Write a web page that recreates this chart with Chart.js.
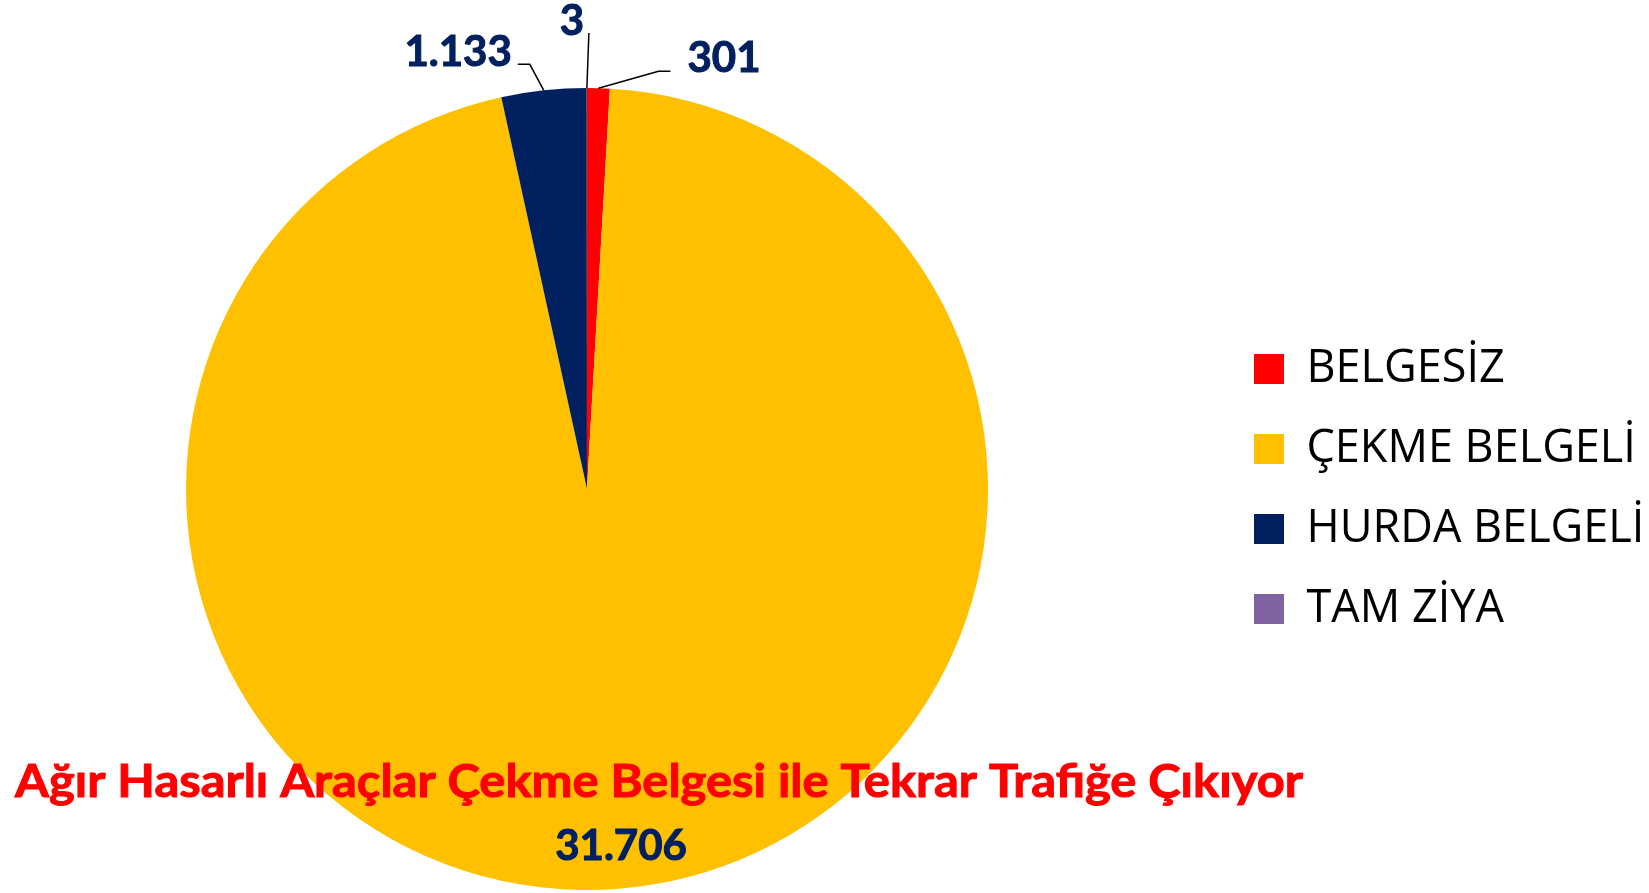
<!DOCTYPE html>
<html>
<head>
<meta charset="utf-8">
<script src="https://cdn.jsdelivr.net/npm/chart.js@4/dist/chart.umd.min.js"></script>
<style>
  html, body { margin: 0; padding: 0; background: #fff; }
  #wrap { width: 1649px; height: 893px; position: relative; }
</style>
</head>
<body>
<div id="wrap"><canvas id="pasta"></canvas></div>
<script>
// dados
const categorias = ['BELGESİZ', 'ÇEKME BELGELİ', 'HURDA BELGELİ', 'TAM ZİYA'];
const valores = [301, 31706, 1133, 3];
const rotulos = ['301', '31.706', '1.133', '3'];
const cores = ['#FF0000', '#FFC000', '#002060', '#8064A2'];
const titulo = 'Ağır Hasarlı Araçlar Çekme Belgesi ile Tekrar Trafiğe Çıkıyor';

// posição dos rótulos (linha guia: cotovelo e fim, em relação à borda da fatia)
const guias = [
    { elbow: [60, -17], end: [12, 0], text: [17, 1], align: 'left' },
    null,
    { elbow: [-14, -26], end: [-12, 0], text: [-6, 2], align: 'right' },
    { elbow: [2, -55], end: [0, 0], text: [-17, 2], align: 'center' }
];

const tamLegenda = 45;
const padLegenda = 35;
const medir = document.createElement('canvas').getContext('2d');
medir.font = tamLegenda + 'px "Open Sans"';
const maiorTexto = Math.max(...categorias.map(c => medir.measureText(c).width));
// caixa da legenda em x=1254; o Chart.js soma 10px à largura
const inicioLegenda = 1254 - padLegenda;
const padDireita = 1649 - inicioLegenda - (padLegenda + 30 + tamLegenda / 2 + maiorTexto + 10);
const centroX = 587;

const rotulosPlugin = {
    id: 'rotulos',
    afterLayout(chart) {
        // centraliza a pizza em x=587
        const a = chart.chartArea;
        a.left = 2 * centroX - a.right;
        a.width = a.right - a.left;
    },
    afterDatasetsDraw(chart) {
        const ctx = chart.ctx;
        const arcs = chart.getDatasetMeta(0).data;
        ctx.save();
        ctx.font = 'bold 42px Lato';
        ctx.textBaseline = 'alphabetic';
        arcs.forEach((arc, i) => {
            const { x, y, startAngle, endAngle, outerRadius } = arc.getProps(['x', 'y', 'startAngle', 'endAngle', 'outerRadius'], true);
            const meio = (startAngle + endAngle) / 2;
            const g = guias[i];
            let tx, ty;
            if (!g) {
                tx = x + Math.cos(meio) * outerRadius * 0.885 + 6;
                ty = y + Math.sin(meio) * outerRadius * 0.885 + 17;
                ctx.textAlign = 'center';
            } else {
                const ex = x + Math.cos(meio) * outerRadius;
                const ey = y + Math.sin(meio) * outerRadius;
                const cx = ex + g.elbow[0], cy = ey + g.elbow[1];
                const fx = cx + g.end[0], fy = cy + g.end[1];
                ctx.beginPath();
                ctx.moveTo(ex, ey);
                ctx.lineTo(cx, cy);
                ctx.lineTo(fx, fy);
                ctx.strokeStyle = '#000';
                ctx.lineWidth = 1.5;
                ctx.stroke();
                ctx.textAlign = g.align;
                tx = fx + g.text[0];
                ty = fy + g.text[1];
            }
            ctx.fillStyle = '#002060';
            ctx.strokeStyle = '#002060';
            ctx.lineWidth = 1;
            ctx.fillText(rotulos[i], tx, ty);
            ctx.strokeText(rotulos[i], tx, ty);
        });
        ctx.restore();
    },
    afterDraw(chart) {
        const ctx = chart.ctx;
        ctx.save();
        ctx.font = 'bold 46px Lato';
        ctx.fillStyle = '#FF0000';
        ctx.strokeStyle = '#FF0000';
        ctx.lineWidth = 1;
        ctx.textBaseline = 'alphabetic';
        ctx.textAlign = 'center';
        const larg = ctx.measureText(titulo).width;
        ctx.translate(659, 797);
        ctx.scale(1288 / larg, 1);
        ctx.fillText(titulo, 0, 0);
        ctx.strokeText(titulo, 0, 0);
        ctx.restore();
    }
};

const pasta = new Chart(document.getElementById('pasta').getContext('2d'), {
    type: 'pie',
    data: {
        labels: categorias,
        datasets: [{
            data: valores,
            backgroundColor: cores,
            borderWidth: 0
        }]
    },
    options: {
        responsive: true,
        maintainAspectRatio: false,
        animation: false,
        layout: {
            padding: { top: 88, bottom: 3, left: 0, right: padDireita }
        },
        plugins: {
            legend: {
                position: 'right',
                labels: {
                    boxWidth: 30,
                    boxHeight: 30,
                    padding: padLegenda,
                    color: '#000',
                    font: { family: 'Open Sans', size: tamLegenda }
                }
            },
            tooltip: { enabled: false }
        }
    },
    plugins: [rotulosPlugin]
});
</script>
</body>
</html>
